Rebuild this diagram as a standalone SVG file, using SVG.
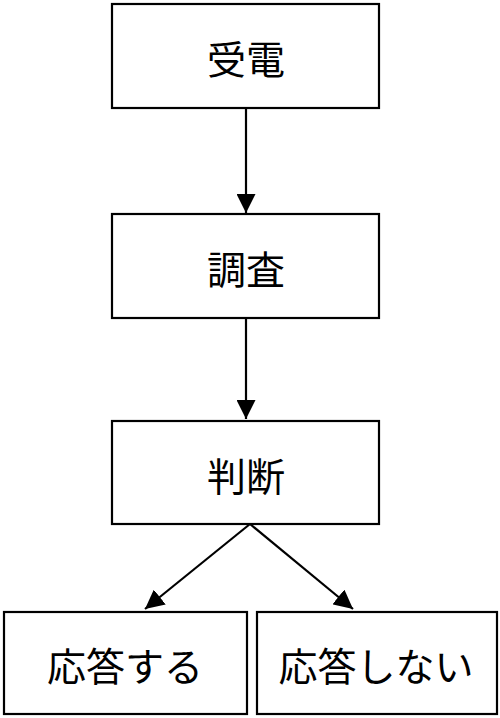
<svg xmlns="http://www.w3.org/2000/svg" width="500" height="718" viewBox="0 0 500 718">
<defs>
<style>
.box{fill:#fff;stroke:#000;stroke-width:2.2}
.lbl{font-family:"Noto Sans CJK JP","Noto Sans",sans-serif;font-size:39px;text-anchor:middle;dominant-baseline:central;fill:#000}
.con{stroke:#000;stroke-width:2.2;fill:none}
</style>
<marker id="ah2" viewBox="0 0 20 20" refX="20" refY="10" markerWidth="19" markerHeight="19" markerUnits="userSpaceOnUse" orient="auto">
<path d="M0,0 L20,10 L0,20 Z" fill="#000"/>
</marker>
</defs>
<rect width="500" height="718" fill="#fff"/>
<g id="connectors">
<line class="con" x1="246" y1="108" x2="246" y2="213" marker-end="url(#ah2)"/>
<line class="con" x1="246" y1="318" x2="246" y2="419" marker-end="url(#ah2)"/>
<line class="con" x1="250" y1="524" x2="145" y2="609" marker-end="url(#ah2)"/>
<line class="con" x1="250" y1="524" x2="353" y2="609" marker-end="url(#ah2)"/>
</g>
<g id="n1"><rect class="box" x="112" y="4" width="267" height="104"/><text class="lbl" x="246" y="57">受電</text></g>
<g id="n2"><rect class="box" x="112" y="214" width="267" height="104"/><text class="lbl" x="246" y="267">調査</text></g>
<g id="n3"><rect class="box" x="112" y="421" width="267" height="103"/><text class="lbl" x="246" y="474">判断</text></g>
<g id="n4"><rect class="box" x="4" y="612" width="243" height="102"/><text class="lbl" x="125" y="664">応答する</text></g>
<g id="n5"><rect class="box" x="257" y="612" width="240" height="102"/><text class="lbl" x="376" y="664">応答しない</text></g>
</svg>
